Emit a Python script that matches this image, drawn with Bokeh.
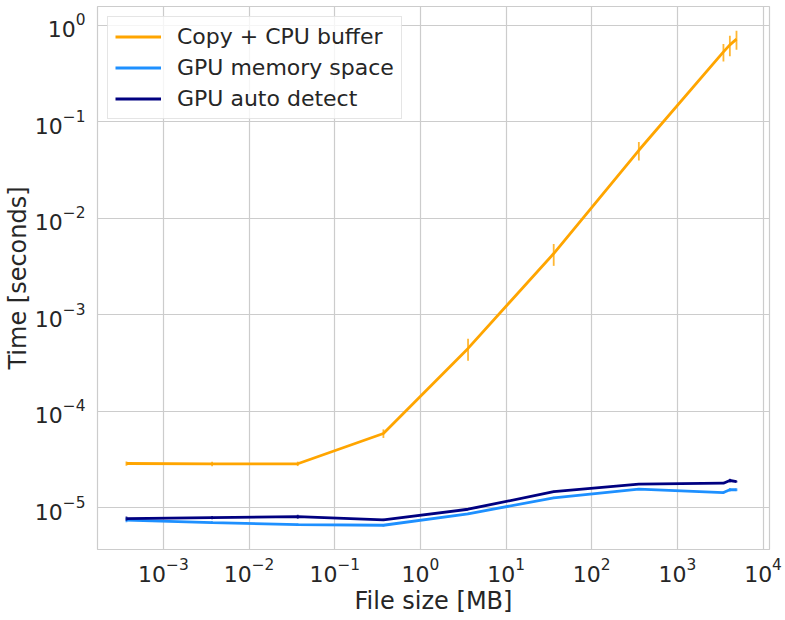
from bokeh.plotting import figure
from bokeh.models import ColumnDataSource, Legend, LegendItem, FixedTicker
from bokeh.embed import file_html
from bokeh.resources import INLINE

# File sizes in MB
file_size = [3.7e-4, 3.7e-3, 3.7e-2, 0.37, 3.6, 36, 355, 3450, 4100, 4900]

# Mean times (seconds) and standard deviations
copy_cpu = [2.88e-5, 2.85e-5, 2.86e-5, 5.9e-5, 4.49e-4, 4.32e-3, 0.0508, 0.532, 0.629, 0.72]
copy_cpu_err = [1.5e-6, 1.5e-6, 1.5e-6, 6.0e-6, 1.15e-4, 1.1e-3, 0.011, 0.11, 0.15, 0.16]

gpu_mem = [7.47e-6, 7.04e-6, 6.7e-6, 6.6e-6, 8.67e-6, 1.27e-5, 1.56e-5, 1.44e-5, 1.54e-5, 1.54e-5]
gpu_mem_err = [4e-7, 2e-7, 2e-7, 2e-7, 2e-7, 3e-7, 3e-7, 4e-7, 6e-7, 5e-7]

gpu_auto = [7.74e-6, 7.93e-6, 8.1e-6, 7.5e-6, 9.67e-6, 1.47e-5, 1.76e-5, 1.80e-5, 1.92e-5, 1.87e-5]
gpu_auto_err = [4e-7, 3e-7, 4e-7, 2e-7, 2e-7, 3e-7, 3e-7, 3e-7, 8e-7, 4e-7]

series_names = ["Copy + CPU buffer", "GPU memory space", "GPU auto detect"]
series_colors = ["#FFA500", "#1E90FF", "#000080"]
series_values = [copy_cpu, gpu_mem, gpu_auto]
series_errors = [copy_cpu_err, gpu_mem_err, gpu_auto_err]

x_ticks = [1e-3, 1e-2, 1e-1, 1e0, 1e1, 1e2, 1e3, 1e4]
y_ticks = [1e-5, 1e-4, 1e-3, 1e-2, 1e-1, 1e0]

TEXT = "#262626"
GRID = "#cccccc"
FONT = "DejaVu Sans"

p = figure(
    x_axis_type="log", y_axis_type="log",
    x_range=(1.7e-4, 1.19e4), y_range=(3.7e-6, 1.57),
    width=785, height=620,
    min_border_left=97, min_border_top=6, min_border_right=16, min_border_bottom=71,
    output_backend="svg", toolbar_location=None,
    background_fill_color="white", border_fill_color="white",
)
p.outline_line_color = GRID
p.outline_line_width = 1.2

for ax in (p.xaxis[0], p.yaxis[0]):
    ax.axis_line_color = None
    ax.major_tick_line_color = None
    ax.minor_tick_line_color = None
    ax.major_label_text_font = FONT
    ax.major_label_text_font_size = "22px"
    ax.major_label_text_color = TEXT
    ax.axis_label_text_font = FONT
    ax.axis_label_text_font_size = "24px"
    ax.axis_label_text_font_style = "normal"
    ax.axis_label_text_color = TEXT

p.xaxis.ticker = FixedTicker(ticks=x_ticks)
p.yaxis.ticker = FixedTicker(ticks=y_ticks)
p.xaxis.axis_label = "File size [MB]"
p.yaxis.axis_label = "Time [seconds]"
p.xaxis.major_label_standoff = 2
p.yaxis.major_label_standoff = 6
p.xaxis.axis_label_standoff = 2
p.yaxis.axis_label_standoff = 0

p.xgrid.grid_line_color = GRID
p.ygrid.grid_line_color = GRID
p.xgrid.grid_line_width = 1.2
p.ygrid.grid_line_width = 1.2

items = []
for name, color, vals, errs in zip(series_names, series_colors, series_values, series_errors):
    src = ColumnDataSource(dict(
        x=file_size, y=vals,
        lo=[v - e for v, e in zip(vals, errs)],
        hi=[v + e for v, e in zip(vals, errs)],
    ))
    r = p.line("x", "y", source=src, line_color=color, line_width=2.8)
    p.segment(x0="x", y0="lo", x1="x", y1="hi", source=src,
              line_color=color, line_width=1.8, line_alpha=0.8)
    items.append(LegendItem(label=name, renderers=[r]))

legend = Legend(
    items=items, location="top_left",
    label_text_font=FONT, label_text_font_size="22px", label_text_color=TEXT,
    glyph_width=46, glyph_height=25, label_height=25, spacing=6,
    label_standoff=16, padding=7, margin=10,
    border_line_color=GRID, border_line_width=1.2,
    background_fill_color="white", background_fill_alpha=0.8,
)
p.add_layout(legend)

open("out.html", "w").write(file_html(p, INLINE))
